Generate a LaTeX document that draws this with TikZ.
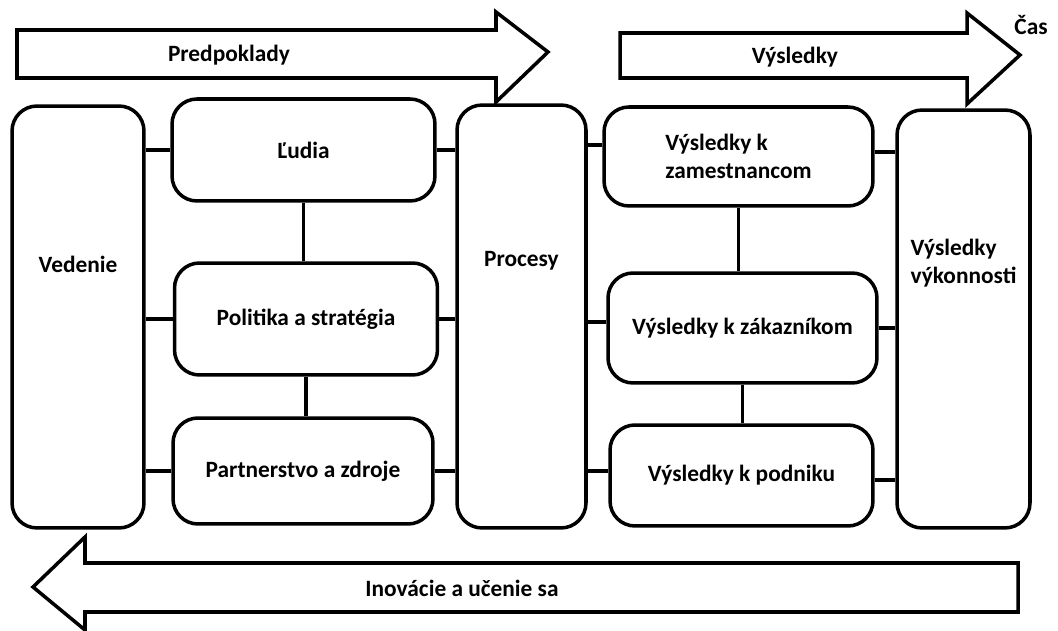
\documentclass[tikz,border=0pt]{standalone}
\usepackage{fontspec}
\setmainfont{Carlito}
\colorlet{myline}{black}

\begin{document}
\begin{tikzpicture}[x=0.02cm,y=-0.02cm]
\tikzset{box/.style ={draw=myline, line width=2pt, rounded corners=0.5cm, font=\fontsize{13.3}{16}\selectfont\bfseries, align=left}}
\tikzset{link/.style ={draw=myline, line width=2pt}}
\tikzset{flow/.style ={draw=myline, line width=2pt, line join=miter}}
\tikzset{caption/.style ={font=\fontsize{13.3}{16}\selectfont\bfseries}}
\useasboundingbox (0,0) rectangle (1058,631);
% arrows
\draw[flow] (17,30) -- (496,30) -- (496,12) -- (548,52) -- (496,102) -- (496,78) -- (17,78) -- cycle;
\draw[flow] (620,33) -- (967,33) -- (967,13) -- (1020,55) -- (967,104) -- (967,78) -- (620,78) -- cycle;
\draw[flow] (1018,563) -- (85,563) -- (85,537) -- (33,587) -- (85,630) -- (85,612) -- (1018,612) -- cycle;
\node[caption] (pred) at (229,55) {Predpoklady};
\node[caption] (vys) at (795,57) {Výsledky};
\node[caption] (cas) at (1031,25) {Čas};
\node[caption] (ino) at (462,588) {Inovácie a učenie sa};
% boxes
\node[box, minimum width=2.64cm, minimum height=8.44cm, text depth=2.1cm] (ved) at (78,317) {Vedenie};
\node[box, minimum width=5.26cm, minimum height=2.04cm] (lud) at (303.5,150) {Ľudia};
\node[box, minimum width=5.26cm, minimum height=2.24cm] (pol) at (306,319) {Politika a stratégia};
\node[box, minimum width=5.2cm, minimum height=2.12cm] (par) at (303,471) {Partnerstvo a zdroje};
\node[box, minimum width=2.58cm, minimum height=8.46cm, text depth=2.3cm] (pro) at (521.5,316.5) {Procesy};
\node[box, minimum width=5.38cm, minimum height=1.98cm] (vzam) at (738.5,156.5) {Výsledky k\\zamestnancom};
\node[box, minimum width=5.38cm, minimum height=2.2cm] (vzak) at (742.5,328) {Výsledky k zákazníkom};
\node[box, minimum width=5.26cm, minimum height=2.02cm] (vpod) at (741.5,475.5) {Výsledky k podniku};
\node[box, minimum width=2.66cm, minimum height=8.36cm, text depth=2.3cm] (vv) at (963.5,319) {Výsledky\\výkonnosti};
% links
\draw[link] (lud.west) -- (lud.west -| ved.east);
\draw[link] (pol.west) -- (pol.west -| ved.east);
\draw[link] (par.west) -- (par.west -| ved.east);
\draw[link] (lud.east) -- (lud.east -| pro.west);
\draw[link] (pol.east) -- (pol.east -| pro.west);
\draw[link] (par.east) -- (par.east -| pro.west);
\draw[link] (lud.south) -- (lud.south |- pol.north);
\draw[link] (pol.south) -- (pol.south |- par.north);
\draw[link] ([yshift=0.23cm]vzam.west) -- ([yshift=0.23cm]vzam.west -| pro.east);
\draw[link] ([yshift=0.12cm]vzak.west) -- ([yshift=0.12cm]vzak.west -| pro.east);
\draw[link] ([yshift=0.09cm]vpod.west) -- ([yshift=0.09cm]vpod.west -| pro.east);
\draw[link] (vzam.south) -- (vzam.south |- vzak.north);
\draw[link] (vzak.south) -- (vzak.south |- vpod.north);
\draw[link] ([yshift=0.09cm]vzam.east) -- ([yshift=0.09cm]vzam.east -| vv.west);
\draw[link] (vzak.east) -- (vzak.east -| vv.west);
\draw[link] ([yshift=-0.09cm]vpod.east) -- ([yshift=-0.09cm]vpod.east -| vv.west);
\end{tikzpicture}
\end{document}
